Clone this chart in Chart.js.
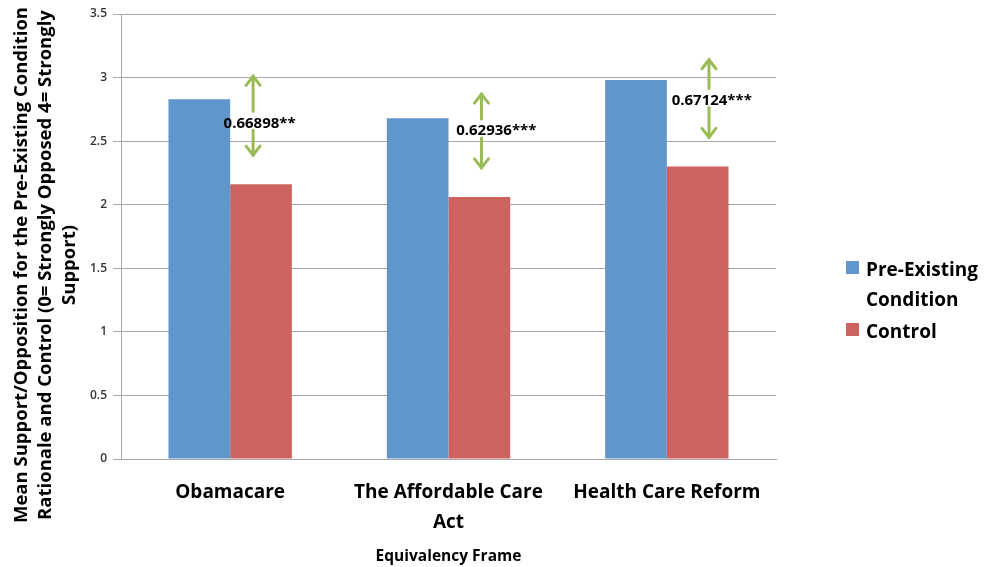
<!DOCTYPE html>
<html>
<head>
<meta charset="utf-8">
<script src="https://cdn.jsdelivr.net/npm/chart.js@4.4.0/dist/chart.umd.min.js"></script>
<style>
html, body { margin: 0; padding: 0; background: #fff; }
#wrap { width: 987px; height: 567px; }
</style>
</head>
<body>
<div id="wrap"><canvas id="myChart" width="987" height="567"></canvas></div>
<script>
// data
var categories = ['Obamacare', ['The Affordable Care', 'Act'], 'Health Care Reform'];
var preExisting = [2.83, 2.68, 2.98];
var control = [2.16, 2.06, 2.30];
var yTicks = [0, 0.5, 1, 1.5, 2, 2.5, 3, 3.5];
var diffLabels = ['0.66898**', '0.62936***', '0.67124***'];
var seriesNames = [['Pre-Existing', 'Condition'], ['Control']];
var yTitleLines = [
    'Mean Support/Opposition for the Pre-Existing Condition',
    'Rationale and Control (0= Strongly Opposed 4= Strongly',
    'Support)'
];

var BLUE = '#6096cb';
var RED = '#cd635e';
var GREEN = '#9bbb59';
var GRID = '#a8a8a8';
var FONT = '"Open Sans", Lato, sans-serif';

// where the difference arrows sit (category index offsets, value units)
var arrowSpots = [
    { x: 0.105, textX: -0.03, top: 3.01, mid: 2.64, bottom: 2.39 },
    { x: 1.151, textX: 1.035, top: 2.87, mid: 2.58, bottom: 2.29 },
    { x: 2.193, textX: 2.022, top: 3.14, mid: 2.82, bottom: 2.53 }
];

function arrowHead(ctx, x, y, dir) {
    ctx.beginPath();
    ctx.moveTo(x - 7, y + dir * 9);
    ctx.lineTo(x, y);
    ctx.lineTo(x + 7, y + dir * 9);
    ctx.stroke();
}

var extras = {
    id: 'extras',
    afterDraw: function(chart) {
        var ctx = chart.ctx;
        var xs = chart.scales.x, ys = chart.scales.y;
        ctx.save();

        // y axis title, rotated
        ctx.save();
        ctx.translate(0, 265);
        ctx.rotate(-Math.PI / 2);
        ctx.fillStyle = '#000';
        ctx.font = 'bold 18.5px ' + FONT;
        ctx.textAlign = 'center';
        ctx.textBaseline = 'alphabetic';
        yTitleLines.forEach(function(t, i) {
            ctx.fillText(t, 0, 27 + i * 24);
        });
        ctx.restore();

        // difference arrows and labels
        ctx.strokeStyle = GREEN;
        ctx.lineWidth = 3;
        ctx.lineCap = 'round';
        arrowSpots.forEach(function(a, i) {
            var px = xs.getPixelForValue(a.x);
            var pt = ys.getPixelForValue(a.top);
            var pm = ys.getPixelForValue(a.mid);
            var pb = ys.getPixelForValue(a.bottom);
            ctx.beginPath();
            ctx.moveTo(px, pt); ctx.lineTo(px, pm - 12);
            ctx.moveTo(px, pm + 7); ctx.lineTo(px, pb);
            ctx.stroke();
            arrowHead(ctx, px, pt, 1);
            arrowHead(ctx, px, pb, -1);
            ctx.fillStyle = '#000';
            ctx.font = 'bold 15px ' + FONT;
            ctx.textAlign = 'left';
            ctx.textBaseline = 'middle';
            ctx.fillText(diffLabels[i], xs.getPixelForValue(a.textX), pm);
        });

        // legend
        var colors = [BLUE, RED];
        var rows = [[271, 301], [333]];
        ctx.font = 'bold 19px ' + FONT;
        ctx.textAlign = 'left';
        ctx.textBaseline = 'middle';
        seriesNames.forEach(function(lines, i) {
            ctx.fillStyle = colors[i];
            ctx.fillRect(846, rows[i][0] - 10, 13, 13);
            ctx.fillStyle = '#000';
            lines.forEach(function(t, j) {
                ctx.fillText(t, 866, rows[i][j]);
            });
        });
        ctx.restore();
    }
};

var ctx = document.getElementById('myChart').getContext('2d');
var myChart = new Chart(ctx, {
    type: 'bar',
    data: {
        labels: categories,
        datasets: [{
            label: 'Pre-Existing Condition',
            data: preExisting,
            backgroundColor: BLUE,
            categoryPercentage: 0.565,
            barPercentage: 1.0
        }, {
            label: 'Control',
            data: control,
            backgroundColor: RED,
            categoryPercentage: 0.565,
            barPercentage: 1.0
        }]
    },
    plugins: [extras],
    options: {
        responsive: false,
        animation: false,
        layout: { padding: { left: 0, right: 211, top: 14, bottom: 0 } },
        plugins: {
            legend: { display: false },
            tooltip: { enabled: false }
        },
        scales: {
            x: {
                grid: { display: false, drawTicks: false },
                border: { color: GRID },
                ticks: {
                    font: { family: FONT, size: 19, weight: 'bold', lineHeight: 1.55 },
                    color: '#000',
                    padding: 19,
                    maxRotation: 0,
                    autoSkip: false
                },
                title: {
                    display: true,
                    text: 'Equivalency Frame',
                    font: { family: FONT, size: 15.5, weight: 'bold' },
                    color: '#000',
                    padding: { top: 0, bottom: 1 }
                },
                afterFit: function(s) { s.height = 108; }
            },
            y: {
                min: 0,
                max: 3.5,
                afterBuildTicks: function(s) {
                    s.ticks = yTicks.map(function(v) { return { value: v }; });
                },
                ticks: {
                    font: { family: FONT, size: 12, weight: '600' },
                    color: '#333',
                    padding: 6,
                    callback: function(v) { return String(v); }
                },
                grid: { color: GRID, tickLength: 8 },
                border: { color: GRID },
                afterFit: function(s) { s.width = 121; }
            }
        }
    }
});
</script>
</body>
</html>
